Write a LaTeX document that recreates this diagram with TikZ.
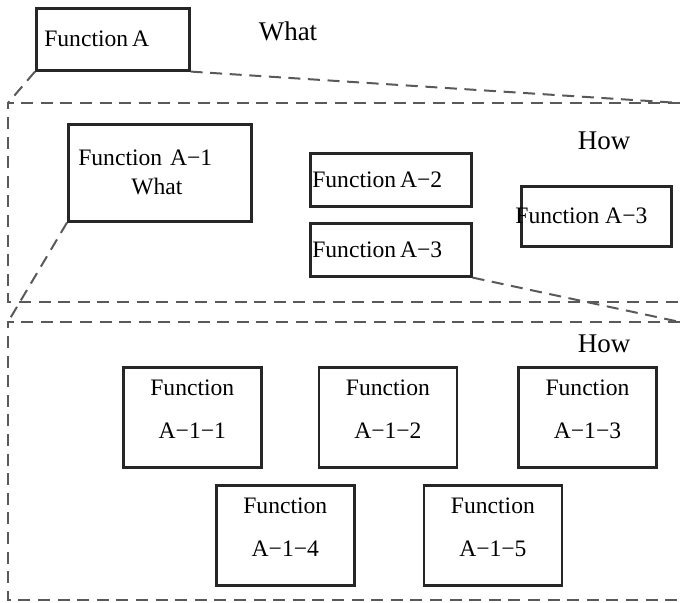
\documentclass[tikz,border=0pt]{standalone}
\usepackage{fontspec}
\setmainfont{Liberation Serif}
\usetikzlibrary{positioning}

\begin{document}
\begin{tikzpicture}[
    x=0.5pt, y=-0.5pt,
    node distance=28pt,
    box/.style={rectangle, draw=black!85, line width=1.3pt, anchor=north west, font=\fontsize{11.8}{13.5}\selectfont},
    leaf/.style={box, minimum width=69pt, minimum height=50pt, align=center, text depth=8pt},
    frame/.style={draw=black!65, line width=1pt, dash pattern=on 6pt off 3.8pt},
    zoomline/.style={frame},
    tag/.style={font=\fontsize{13.5}{15}\selectfont}
  ]
  \useasboundingbox (0,0) rectangle (680,603);

  % top level
  \node[box, minimum width=76.5pt, minimum height=31pt, inner xsep=4pt, text width=68.5pt, align=left] (fa) at (35,7) {Function\,A};
  \node[tag] (what) at (288,31) {What};

  % first breakdown
  \coordinate (f1nw) at (8,103);
  \coordinate (f1ne) at (680,103);
  \coordinate (f1sw) at (8,302);
  \coordinate (f1se) at (680,302);
  \draw[frame] (f1ne) -- (f1nw) -- (f1sw) -- (f1se);

  \node[tag] (how1) at (604,141) {How};
  \node[box, minimum width=91.5pt, minimum height=48.5pt, inner xsep=5pt, text width=81.5pt, align=left] (a1) at (67,123) {Function A−1\\[1pt]\hspace*{26.5pt}What};
  \node[box, minimum width=80.5pt, minimum height=26.5pt, inner xsep=1pt, text width=78.5pt, align=left] (a2) at (309,152) {Function\,A−2};
  \node[box, minimum width=80.5pt, minimum height=26.5pt, inner xsep=1pt, text width=78.5pt, align=left] (a3) at (309,222) {Function\,A−3};
  \node[box, minimum width=75pt, minimum height=30pt] (r3) at (520,185) {};
  \node[anchor=west, inner sep=0pt, font=\fontsize{11.8}{13.5}\selectfont] (r3txt) at ([xshift=-2.5pt]r3.west) {Function A−3};

  % second breakdown
  \coordinate (f2nw) at (8,322);
  \coordinate (f2ne) at (680,322);
  \coordinate (f2sw) at (8,600);
  \coordinate (f2se) at (680,600);
  \draw[frame] (f2ne) -- (f2nw) -- (f2sw) -- (f2se);

  \node[tag] (how2) at (604,344) {How};
  \node[leaf] (a11) at (122,366) {Function\\[8pt]A−1−1};
  \node[leaf, right=27.5pt of a11] (a12) {Function\\[8pt]A−1−2};
  \node[leaf, right=29.5pt of a12] (a13) {Function\\[8pt]A−1−3};
  \node[leaf] (a14) at (215,484) {Function\\[8pt]A−1−4};
  \node[leaf, right=33.5pt of a14] (a15) {Function\\[8pt]A−1−5};

  % zoom lines
  \draw[zoomline] (fa.south west) -- (f1nw);
  \draw[zoomline] (fa.south east) -- (f1ne);
  \draw[zoomline] (a1.south west) -- (f2nw);
  \draw[zoomline] (a3.south east) -- (f2ne);
\end{tikzpicture}
\end{document}
